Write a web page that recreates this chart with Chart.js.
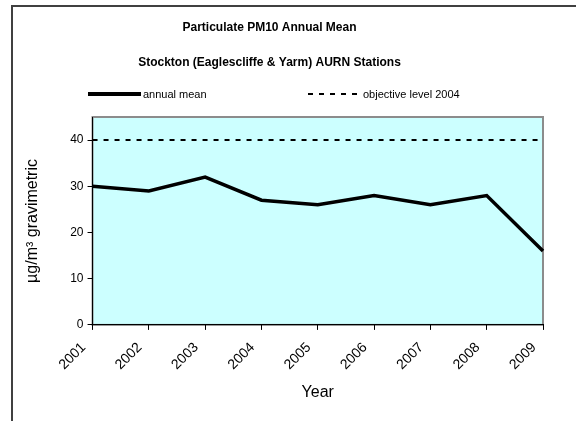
<!DOCTYPE html>
<html>
<head>
<meta charset="utf-8">
<script src="https://cdn.jsdelivr.net/npm/chart.js@4.4.1/dist/chart.umd.min.js"></script>
<style>
  html, body { margin: 0; padding: 0; background: #fff; overflow: hidden; }
  #frame { position: absolute; left: 11px; top: 5px; width: 620px; height: 460px; border: 2px solid #404040; }
  #wrap { position: absolute; left: 0; top: 0; width: 576px; height: 421px; }
</style>
</head>
<body>
<div id="frame"></div>
<div id="wrap"><canvas id="myChart"></canvas></div>
<script>
const years = ['2001', '2002', '2003', '2004', '2005', '2006', '2007', '2008', '2009'];
const annualMean = [30, 29, 32, 27, 26, 28, 26, 28, 16];
const objectiveLevel = [40, 40, 40, 40, 40, 40, 40, 40, 40];
const yMin = 0, yMax = 45, yStep = 10;

const FONT = 'Arial, "Liberation Sans", sans-serif';

// light cyan plot area with a grey frame on top/right
const plotBackground = {
  id: 'plotBackground',
  beforeDraw(chart) {
    const { ctx, chartArea: a } = chart;
    ctx.save();
    ctx.fillStyle = '#ccffff';
    ctx.fillRect(a.left, a.top, a.width, a.height);
    ctx.strokeStyle = '#8c8c8c';
    ctx.lineWidth = 2;
    ctx.strokeRect(a.left, a.top, a.width, a.height);
    ctx.restore();
  }
};

// one-row legend laid out like the spreadsheet version
const lineLegend = {
  id: 'lineLegend',
  afterDraw(chart, args, opts) {
    const ctx = chart.ctx;
    chart.data.datasets.forEach((ds, i) => {
      const x = opts.x[i], y = opts.y;
      ctx.save();
      ctx.strokeStyle = ds.borderColor;
      ctx.lineWidth = opts.widths[i];
      ctx.setLineDash(ds.borderDash || []);
      ctx.beginPath();
      ctx.moveTo(x, y);
      ctx.lineTo(x + opts.lineLen, y);
      ctx.stroke();
      ctx.setLineDash([]);
      ctx.fillStyle = '#000';
      ctx.font = '11px ' + FONT;
      ctx.textBaseline = 'middle';
      ctx.fillText(ds.label, x + opts.lineLen + 2, y + 1);
      ctx.restore();
    });
  }
};

const ctx = document.getElementById('myChart');

new Chart(ctx, {
  type: 'line',
  data: {
    labels: years,
    datasets: [{
      label: 'annual mean',
      data: annualMean,
      borderColor: '#000',
      borderWidth: 3.5,
      pointRadius: 0,
      tension: 0,
      fill: false
    }, {
      label: 'objective level 2004',
      data: objectiveLevel,
      borderColor: '#000',
      borderWidth: 2,
      borderDash: [5, 6],
      pointRadius: 0,
      tension: 0,
      fill: false
    }]
  },
  options: {
    responsive: true,
    maintainAspectRatio: false,
    animation: false,
    layout: { padding: { left: -4, right: 33, top: 0, bottom: 0 } },
    plugins: {
      legend: { display: false },
      tooltip: { enabled: false },
      title: {
        display: true,
        text: 'Particulate PM10 Annual Mean',
        color: '#000',
        font: { family: FONT, size: 12, weight: 'bold' },
        padding: { top: 20, bottom: 0 }
      },
      subtitle: {
        display: true,
        text: 'Stockton (Eaglescliffe & Yarm) AURN Stations',
        color: '#000',
        font: { family: FONT, size: 12, weight: 'bold' },
        padding: { top: 21, bottom: 47.2 }
      },
      lineLegend: { x: [88, 308], y: 94, lineLen: 53, widths: [4, 2] }
    },
    scales: {
      x: {
        offset: false,
        grid: { drawOnChartArea: false, drawTicks: true, tickLength: 5, color: '#000', offset: false },
        border: { color: '#000', width: 1 },
        ticks: {
          minRotation: 45, maxRotation: 45, padding: 9.5, labelOffset: -9,
          color: '#000', font: { family: FONT, size: 14 }
        },
        title: {
          display: true,
          text: 'Year',
          color: '#000',
          font: { family: FONT, size: 16 },
          padding: { top: 0, bottom: 19 }
        }
      },
      y: {
        min: yMin,
        max: yMax,
        grid: { drawOnChartArea: false, drawTicks: true, tickLength: 5, color: '#000' },
        border: { color: '#000', width: 1 },
        ticks: { stepSize: yStep, includeBounds: false, padding: 4, color: '#000', font: { family: FONT, size: 12 } },
        title: {
          display: true,
          text: 'µg/m³ gravimetric',
          color: '#000',
          font: { family: FONT, size: 16 },
          padding: { top: 27, bottom: 24 }
        }
      }
    }
  },
  plugins: [plotBackground, lineLegend]
});
</script>
</body>
</html>
